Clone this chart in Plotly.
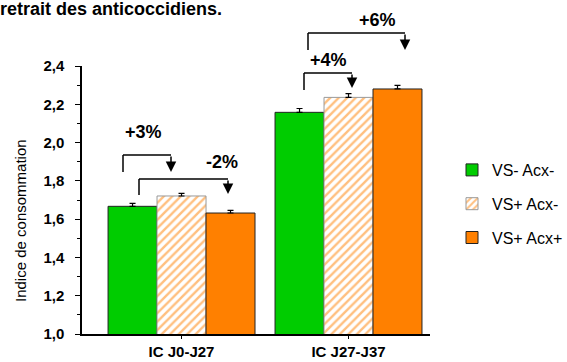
import plotly.graph_objects as go

categories = ["IC J0-J27", "IC J27-J37"]
series_names = ["VS- Acx-", "VS+ Acx-", "VS+ Acx+"]
vs_minus_acx_minus = [1.667, 2.158]
vs_plus_acx_minus = [1.721, 2.236]
vs_plus_acx_plus = [1.632, 2.280]
err_vs_minus_acx_minus = [0.015, 0.02]
err_vs_plus_acx_minus = [0.014, 0.02]
err_vs_plus_acx_plus = [0.014, 0.019]
y_ticks = [1.0, 1.2, 1.4, 1.6, 1.8, 2.0, 2.2, 2.4]

GREEN = "#00CC00"
ORANGE = "#FF8000"
FONT = "Liberation Sans, Arial, sans-serif"

W, H = 567, 362
L, R, T, B = 82, 137, 66, 28
PW, PH = W - L - R, H - T - B


def px(x):
    return (x - L) / PW


def py(y):
    return (H - B - y) / PH


fig = go.Figure()
err_style = dict(type="data", symmetric=False, color="black", thickness=1.2, width=3)

fig.add_trace(go.Bar(
    x=categories, y=vs_minus_acx_minus, name=series_names[0], legendgroup="a",
    marker=dict(color=GREEN, line=dict(color="#222222", width=1)),
    error_y=dict(array=err_vs_minus_acx_minus, arrayminus=[0, 0], **err_style),
))
fig.add_trace(go.Bar(
    x=categories, y=vs_plus_acx_minus, name=series_names[1], legendgroup="b",
    marker=dict(color="white", line=dict(color="#999999", width=1),
                pattern=dict(shape="/", fgcolor=ORANGE, bgcolor="white", size=6, solidity=0.4)),
    error_y=dict(array=err_vs_plus_acx_minus, arrayminus=[0, 0], **err_style),
))
fig.add_trace(go.Bar(
    x=categories, y=vs_plus_acx_plus, name=series_names[2], legendgroup="c",
    marker=dict(color=ORANGE, line=dict(color="#222222", width=1)),
    error_y=dict(array=err_vs_plus_acx_plus, arrayminus=[0, 0], **err_style),
))

shapes = []
annotations = []

# brackets: (left_x, right_x, top_y, left_bottom_y, tip_y, label, label_x, label_y)
brackets = [
    (123, 171, 155, 172, 172, "+3%", 143, 132),
    (139, 228, 179, 195, 194, "-2%", 222, 162),
    (304, 352, 73, 90, 88, "+4%", 328, 60),
    (308, 405, 33, 50, 50, "+6%", 377, 20),
]
for lx, rx, ty, lb, tip, lab, tx, tyy in brackets:
    shapes.append(dict(type="line", xref="paper", yref="paper",
                       x0=px(lx), x1=px(lx), y0=py(lb), y1=py(ty),
                       line=dict(color="black", width=1.5)))
    shapes.append(dict(type="line", xref="paper", yref="paper",
                       x0=px(lx), x1=px(rx), y0=py(ty), y1=py(ty),
                       line=dict(color="black", width=1.5)))
    annotations.append(dict(xref="paper", yref="paper", x=px(rx), y=py(tip),
                            ax=0, ay=-(tip - ty), showarrow=True, arrowhead=2,
                            arrowsize=1.4, arrowwidth=1.5, arrowcolor="black",
                            standoff=0, text=""))
    annotations.append(dict(xref="paper", yref="paper", x=px(tx), y=py(tyy),
                            xanchor="center", yanchor="middle",
                            text=f"<b>{lab}</b>", showarrow=False,
                            font=dict(size=18, color="black", family=FONT)))

annotations.append(dict(xref="paper", yref="paper", x=px(-2), y=py(9),
                        xanchor="left", yanchor="middle", showarrow=False,
                        text="<b>retrait des anticoccidiens.</b>",
                        font=dict(size=18, color="black", family=FONT)))
annotations.append(dict(xref="paper", yref="paper", x=px(20), y=py(221),
                        xanchor="center", yanchor="middle",
                        textangle=-90, showarrow=False,
                        text="Indice de consommation",
                        font=dict(size=15, color="black", family=FONT)))

fig.update_layout(
    width=W, height=H,
    margin=dict(l=L, r=R, t=T, b=B, pad=0, autoexpand=False),
    paper_bgcolor="white", plot_bgcolor="white",
    separators=", ",
    barmode="group", bargap=0.12, bargroupgap=0,
    font=dict(family=FONT, color="black"),
    showlegend=True,
    legend=dict(x=px(452), y=py(153), xanchor="left", yanchor="top",
                font=dict(size=16, family=FONT), tracegroupgap=10,
                bgcolor="rgba(0,0,0,0)", traceorder="grouped"),
    shapes=shapes, annotations=annotations,
)
fig.update_xaxes(
    type="category", range=[-0.596, 1.488], automargin=False,
    showline=True, linecolor="black", linewidth=1.5,
    ticks="outside", ticklen=3, tickcolor="black",
    tickfont=dict(size=15, family=FONT, weight="bold"),
    ticklabelstandoff=0, showgrid=False, zeroline=False,
)
fig.update_yaxes(
    range=[1.0, 2.4], tickvals=y_ticks, tickformat=".1f", automargin=False,
    showline=True, linecolor="black", linewidth=1.5,
    ticks="outside", ticklen=5, tickcolor="black",
    minor=dict(dtick=0.1, ticks="outside", ticklen=3, tickcolor="black", showgrid=False),
    tickfont=dict(size=15, family=FONT, weight="bold"),
    ticklabelstandoff=8, showgrid=False, zeroline=False,
)

fig.write_html(
    "out.html",
    config={"displayModeBar": False},
    post_script="document.body.style.margin='0';document.body.style.padding='0';document.body.style.overflow='hidden';",
)
